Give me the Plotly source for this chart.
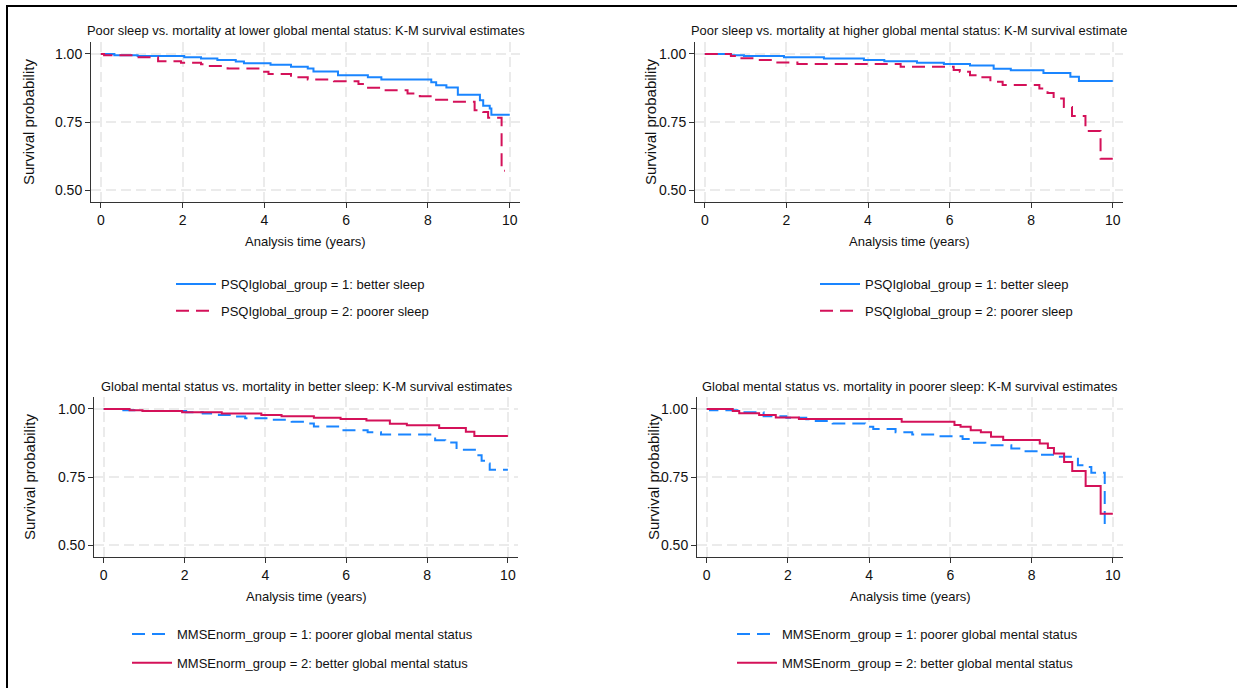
import plotly.graph_objects as go

W, H = 1237, 688

# ---- Data (K-M step estimates) ----
# Lower global mental status, better sleep
t_low_better = [0, 0.33, 0.9, 2.04, 2.45, 2.85, 3.3, 3.5, 4.15, 4.65, 5.06, 5.2, 5.8, 6.53, 6.86, 8.08, 8.2, 8.45, 8.73, 9.27, 9.35, 9.51, 9.55, 10.0]
s_low_better = [1.0, 0.995, 0.993, 0.988, 0.983, 0.978, 0.972, 0.966, 0.96, 0.953, 0.947, 0.936, 0.922, 0.914, 0.906, 0.896, 0.885, 0.877, 0.85, 0.83, 0.81, 0.80, 0.777, 0.777]
# Lower global mental status, poorer sleep
t_low_poorer = [0, 0.08, 0.82, 1.4, 1.96, 2.45, 2.6, 3.1, 3.9, 4.1, 4.65, 5.06, 5.7, 6.3, 6.45, 6.86, 7.5, 7.8, 8.16, 8.57, 9.14, 9.35, 9.47, 9.8, 9.88]
s_low_poorer = [1.0, 0.995, 0.988, 0.973, 0.968, 0.962, 0.956, 0.947, 0.935, 0.926, 0.914, 0.906, 0.9, 0.89, 0.876, 0.867, 0.855, 0.845, 0.832, 0.824, 0.793, 0.787, 0.766, 0.571, 0.571]
# Higher global mental status, better sleep
t_high_better = [0, 0.64, 0.96, 1.94, 2.92, 3.9, 4.4, 5.2, 5.86, 6.5, 7.08, 7.5, 8.3, 8.96, 9.17, 10.0]
s_high_better = [1.0, 0.995, 0.993, 0.988, 0.983, 0.978, 0.973, 0.968, 0.963, 0.958, 0.946, 0.94, 0.93, 0.916, 0.901, 0.901]
# Higher global mental status, poorer sleep
t_high_poorer = [0, 0.64, 0.8, 1.29, 1.7, 2.27, 4.8, 6.1, 6.25, 6.5, 6.75, 7.0, 7.3, 8.2, 8.4, 8.55, 8.8, 9.0, 9.33, 9.7, 10.0]
s_high_poorer = [1.0, 0.993, 0.984, 0.978, 0.969, 0.963, 0.953, 0.941, 0.935, 0.922, 0.914, 0.898, 0.886, 0.873, 0.857, 0.836, 0.805, 0.772, 0.717, 0.615, 0.615]

x_ticks = [0, 2, 4, 6, 8, 10]
y_ticks = [0.50, 0.75, 1.00]
y_tick_labels = ["0.50", "0.75", "1.00"]

titles = [
    "Poor sleep vs. mortality at lower global mental status: K-M survival estimates",
    "Poor sleep vs. mortality at higher global mental status: K-M survival estimate",
    "Global mental status vs. mortality in better sleep: K-M survival estimates",
    "Global mental status vs. mortality in poorer sleep: K-M survival estimates",
]
lbl_psqi1 = "PSQIglobal_group = 1: better sleep"
lbl_psqi2 = "PSQIglobal_group = 2: poorer sleep"
lbl_mmse1 = "MMSEnorm_group = 1: poorer global mental status"
lbl_mmse2 = "MMSEnorm_group = 2: better global mental status"

BLUE = "#1A85FF"
RED = "#D41159"
DASH = "13px,7px"
FONT = "Liberation Sans, Arial, sans-serif"

def px_x(p):
    return p / W

def px_y(p):
    return 1 - p / H

# panel plot areas in pixels: (left, right, top, bottom)
panels = [
    (91, 520, 42, 202),
    (695, 1123, 42, 202),
    (94, 518, 397, 557),
    (697, 1123, 397, 557),
]

fig = go.Figure()

series = [
    (1, t_low_better, s_low_better, BLUE, "solid", lbl_psqi1),
    (1, t_low_poorer, s_low_poorer, RED, DASH, lbl_psqi2),
    (2, t_high_better, s_high_better, BLUE, "solid", lbl_psqi1),
    (2, t_high_poorer, s_high_poorer, RED, DASH, lbl_psqi2),
    (3, t_low_better, s_low_better, BLUE, DASH, lbl_mmse1),
    (3, t_high_better, s_high_better, RED, "solid", lbl_mmse2),
    (4, t_low_poorer, s_low_poorer, BLUE, DASH, lbl_mmse1),
    (4, t_high_poorer, s_high_poorer, RED, "solid", lbl_mmse2),
]

for i, (p, t, s, c, d, name) in enumerate(series):
    suffix = "" if p == 1 else str(p)
    fig.add_trace(go.Scatter(
        x=t, y=s, mode="lines", line=dict(color=c, width=2, dash=d, shape="hv"),
        name=name, xaxis="x" + suffix, yaxis="y" + suffix,
        legend="legend" + suffix, legendgroup="g%d" % i, showlegend=True,
        hoverinfo="skip",
    ))

layout = dict(
    width=W, height=H,
    margin=dict(l=0, r=0, t=0, b=0),
    paper_bgcolor="white", plot_bgcolor="white",
    font=dict(family=FONT, color="#111111", size=13),
    showlegend=True,
)

annotations = []
legend_pos = [(171, 269), (815, 269), (127, 619), (732, 619)]
ytitle_x = [29, 651, 29, 653]
for k, (l, r, t, b) in enumerate(panels):
    suffix = "" if k == 0 else str(k + 1)
    layout["xaxis" + suffix] = dict(
        domain=[px_x(l), px_x(r)], range=[-0.24, 10.25], anchor="y" + suffix,
        tickvals=x_ticks, ticks="outside", ticklen=5, tickcolor="#333333",
        showline=True, linecolor="#333333", linewidth=1,
        showgrid=True, gridcolor="#EBEBEB", gridwidth=1.5, griddash="10px,5px",
        zeroline=False, tickfont=dict(size=14), fixedrange=True,
    )
    layout["yaxis" + suffix] = dict(
        domain=[px_y(b), px_y(t)], range=[0.456, 1.044], anchor="x" + suffix,
        tickvals=y_ticks, ticktext=y_tick_labels, ticks="outside", ticklen=5,
        tickcolor="#333333", showline=True, linecolor="#333333", linewidth=1,
        showgrid=True, gridcolor="#EBEBEB", gridwidth=1.5, griddash="10px,5px",
        zeroline=False, tickfont=dict(size=14), fixedrange=True,
    )
    cx = (l + r) / 2
    annotations.append(dict(
        text=titles[k], x=px_x(cx), y=px_y(t - 11), xref="paper", yref="paper",
        xanchor="center", yanchor="middle", showarrow=False, font=dict(size=12.9),
    ))
    annotations.append(dict(
        text="Analysis time (years)", x=px_x(cx), y=px_y(b + 39), xref="paper", yref="paper",
        xanchor="center", yanchor="middle", showarrow=False, font=dict(size=13),
    ))
    annotations.append(dict(
        text="Survival probability", x=px_x(ytitle_x[k]), y=px_y((t + b) / 2),
        xref="paper", yref="paper", xanchor="center", yanchor="middle",
        textangle=-90, showarrow=False, font=dict(size=15),
    ))
    lx, ly = legend_pos[k]
    layout["legend" + suffix] = dict(
        x=px_x(lx), y=px_y(ly), xanchor="left", yanchor="top",
        bgcolor="rgba(0,0,0,0)", font=dict(size=13), tracegroupgap=7 if k < 2 else 9,
        itemwidth=40, itemclick=False, itemdoubleclick=False,
    )

layout["annotations"] = annotations
layout["shapes"] = [
    dict(type="line", xref="paper", yref="paper", x0=px_x(6), x1=1, y0=px_y(6), y1=px_y(6),
         line=dict(color="black", width=2)),
    dict(type="line", xref="paper", yref="paper", x0=px_x(7), x1=px_x(7), y0=px_y(5), y1=0,
         line=dict(color="black", width=2)),
]

fig.update_layout(**layout)
fig.write_html("out.html", config={"displayModeBar": False},
               post_script="document.body.style.margin='0';")
